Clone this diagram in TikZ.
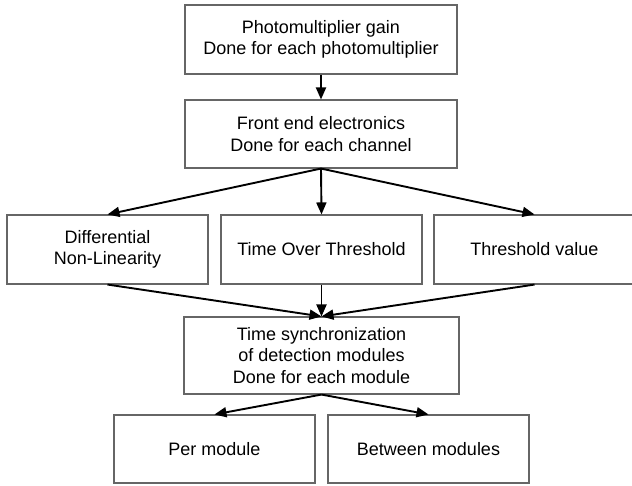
\documentclass[tikz,border=0pt]{standalone}
\usepackage{fontspec}
\setmainfont{Liberation Sans}
\usetikzlibrary{arrows.meta}
\begin{document}
\begin{tikzpicture}[x=1pt,y=-1pt,
  box/.style={draw=black!60, line width=1.1pt, fill=white, rectangle,
    inner sep=0pt, align=center, text=black,
    font=\fontsize{18}{21.5}\selectfont},
  flow/.style={-{Triangle[length=12pt,width=10pt]}, line width=1.9pt, black}]
  \useasboundingbox (0,0) rectangle (632,485);
  % calibration stages
  \node[box, minimum width=272pt, minimum height=69pt] (pmt) at (321,39.5)
    {Photomultiplier gain\\Done for each photomultiplier};
  \node[box, minimum width=272pt, minimum height=68pt] (fee) at (321,134)
    {Front end electronics\\Done for each channel};
  \node[box, minimum width=201pt, minimum height=69pt] (dnl) at (107.5,249.5)
    {Differential\\Non-Linearity};
  \node[box, minimum width=201pt, minimum height=69pt] (tot) at (321.5,249.5)
    {Time Over Threshold};
  \node[box, minimum width=201pt, minimum height=69pt] (thr) at (534.5,249.5)
    {Threshold value};
  \node[box, minimum width=275pt, minimum height=77pt] (sync) at (321.5,355.5)
    {Time synchronization\\of detection modules\\Done for each module};
  \node[box, minimum width=201pt, minimum height=68pt] (per) at (214.5,449)
    {Per module};
  \node[box, minimum width=201pt, minimum height=68pt] (betw) at (428.5,449)
    {Between modules};
  % connectors
  \draw[flow] (pmt.south) -- (fee.north);
  \draw[flow] (fee.south) -- (dnl.north);
  \draw[flow] (fee.south) -- (tot.north);
  \draw[flow] (fee.south) -- (thr.north);
  \draw[flow] (dnl.south) -- (sync.north);
  \draw[flow] (tot.south) -- (sync.north);
  \draw[flow] (thr.south) -- (sync.north);
  \draw[flow] (sync.south) -- (per.north);
  \draw[flow] (sync.south) -- (betw.north);
\end{tikzpicture}
\end{document}
